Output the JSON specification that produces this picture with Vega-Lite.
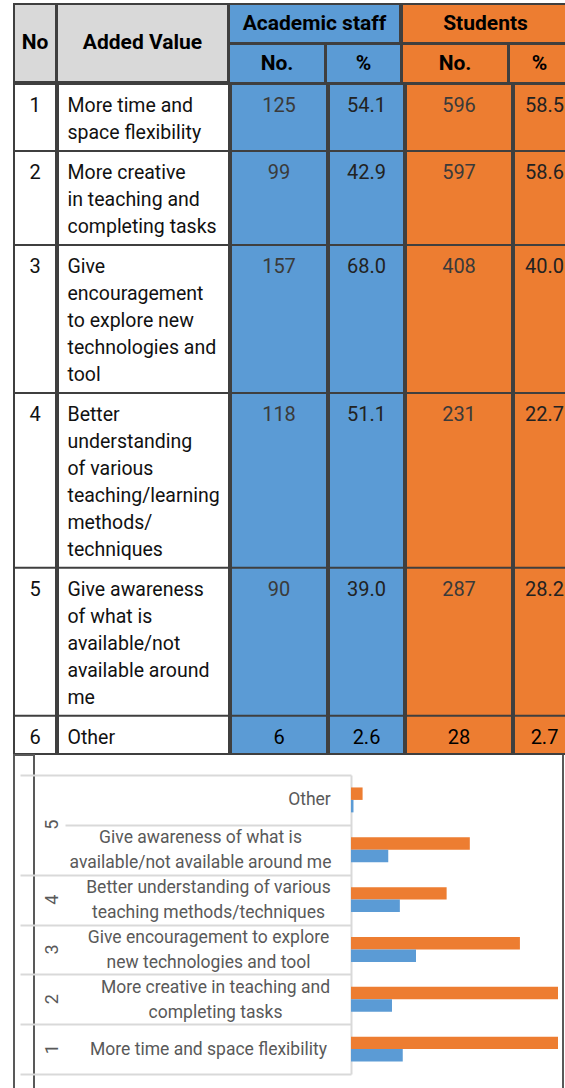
{
  "$schema": "https://vega.github.io/schema/vega-lite/v6.json",
  "background": "white",
  "padding": {"left": 1, "top": 3, "right": 0, "bottom": 0},
  "config": {"view": {"stroke": null}},
  "datasets": {
    "headers": [
      {"key": "no", "text": "No"},
      {"key": "added", "text": "Added Value"},
      {"key": "staff", "text": "Academic staff"},
      {"key": "staff_no", "text": "No."},
      {"key": "staff_pct", "text": "%"},
      {"key": "stud", "text": "Students"},
      {"key": "stud_no", "text": "No."},
      {"key": "stud_pct", "text": "%"}
    ],
    "table": [
      {"no": 1, "label": ["More time and", "space flexibility"], "chart_label": "More time and space flexibility", "group": "1", "staff_n": 125, "staff_pct": 54.1, "stud_n": 596, "stud_pct": 58.5},
      {"no": 2, "label": ["More creative", "in teaching and", "completing tasks"], "chart_label": "More creative in teaching and\ncompleting tasks", "group": "2", "staff_n": 99, "staff_pct": 42.9, "stud_n": 597, "stud_pct": 58.6},
      {"no": 3, "label": ["Give", "encouragement", "to explore new", "technologies and", "tool"], "chart_label": "Give encouragement to explore\nnew technologies and tool", "group": "3", "staff_n": 157, "staff_pct": 68.0, "stud_n": 408, "stud_pct": 40.0},
      {"no": 4, "label": ["Better", "understanding", "of various", "teaching/learning", "methods/", "techniques"], "chart_label": "Better understanding of various\nteaching methods/techniques", "group": "4", "staff_n": 118, "staff_pct": 51.1, "stud_n": 231, "stud_pct": 22.7},
      {"no": 5, "label": ["Give awareness", "of what is", "available/not", "available around", "me"], "chart_label": "Give awareness of what is\navailable/not available around me", "group": "5", "staff_n": 90, "staff_pct": 39.0, "stud_n": 287, "stud_pct": 28.2},
      {"no": 6, "label": ["Other"], "chart_label": "Other", "group": "", "staff_n": 6, "staff_pct": 2.6, "stud_n": 28, "stud_pct": 2.7}
    ]
  },
  "spacing": -4,
  "vconcat": [
    {
      "spacing": -4,
      "hconcat": [
        {
          "width": 42, "height": 78,
          "view": {"fill": "#D9D9D9", "stroke": "#3f3f3f", "strokeWidth": 2},
          "data": {"name": "headers"},
          "transform": [{"filter": "datum.key === 'no'"}],
          "mark": {"type": "text", "clip": true, "font": "Roboto", "fontSize": 21, "fontWeight": "bold", "color": "#000"},
          "encoding": {
            "y": {"field": "key", "type": "nominal", "axis": {"labels": false, "ticks": false, "domain": false, "grid": false, "title": null, "minExtent": 12, "maxExtent": 12}},
            "text": {"field": "text", "type": "nominal"}
          }
        },
        {
          "width": 171, "height": 78,
          "view": {"fill": "#D9D9D9", "stroke": "#3f3f3f", "strokeWidth": 2},
          "data": {"name": "headers"},
          "transform": [{"filter": "datum.key === 'added'"}],
          "mark": {"type": "text", "clip": true, "font": "Roboto", "fontSize": 21, "fontWeight": "bold", "color": "#000"},
          "encoding": {"text": {"field": "text", "type": "nominal"}}
        },
        {
          "spacing": -4,
          "vconcat": [
            {
              "width": 171, "height": 39,
              "view": {"fill": "#5B9BD5", "stroke": "#3f3f3f", "strokeWidth": 2},
              "data": {"name": "headers"},
              "transform": [{"filter": "datum.key === 'staff'"}],
              "mark": {"type": "text", "clip": true, "font": "Roboto", "fontSize": 21, "fontWeight": "bold", "color": "#000"},
              "encoding": {"text": {"field": "text", "type": "nominal"}}
            },
            {
              "spacing": -4,
              "hconcat": [
                {
                  "width": 96, "height": 39,
                  "view": {"fill": "#5B9BD5", "stroke": "#3f3f3f", "strokeWidth": 2},
                  "data": {"name": "headers"},
                  "transform": [{"filter": "datum.key === 'staff_no'"}],
                  "mark": {"type": "text", "clip": true, "font": "Roboto", "fontSize": 21, "fontWeight": "bold", "color": "#000"},
                  "encoding": {"text": {"field": "text", "type": "nominal"}}
                },
                {
                  "width": 75, "height": 39,
                  "view": {"fill": "#5B9BD5", "stroke": "#3f3f3f", "strokeWidth": 2},
                  "data": {"name": "headers"},
                  "transform": [{"filter": "datum.key === 'staff_pct'"}],
                  "mark": {"type": "text", "clip": true, "font": "Roboto", "fontSize": 21, "fontWeight": "bold", "color": "#000"},
                  "encoding": {"text": {"field": "text", "type": "nominal"}}
                }
              ]
            }
          ]
        },
        {
          "spacing": -4,
          "vconcat": [
            {
              "width": 167, "height": 39,
              "view": {"fill": "#ED7D31", "stroke": "#3f3f3f", "strokeWidth": 2},
              "data": {"name": "headers"},
              "transform": [{"filter": "datum.key === 'stud'"}],
              "mark": {"type": "text", "clip": true, "font": "Roboto", "fontSize": 21, "fontWeight": "bold", "color": "#000"},
              "encoding": {"text": {"field": "text", "type": "nominal"}}
            },
            {
              "spacing": -4,
              "hconcat": [
                {
                  "width": 106, "height": 39,
                  "view": {"fill": "#ED7D31", "stroke": "#3f3f3f", "strokeWidth": 2},
                  "data": {"name": "headers"},
                  "transform": [{"filter": "datum.key === 'stud_no'"}],
                  "mark": {"type": "text", "clip": true, "font": "Roboto", "fontSize": 21, "fontWeight": "bold", "color": "#000"},
                  "encoding": {"text": {"field": "text", "type": "nominal"}}
                },
                {
                  "width": 61, "height": 39,
                  "view": {"fill": "#ED7D31", "stroke": "#3f3f3f", "strokeWidth": 2},
                  "data": {"name": "headers"},
                  "transform": [{"filter": "datum.key === 'stud_pct'"}],
                  "mark": {"type": "text", "clip": true, "font": "Roboto", "fontSize": 21, "fontWeight": "bold", "color": "#000"},
                  "encoding": {"text": {"field": "text", "type": "nominal"}}
                }
              ]
            }
          ]
        }
      ]
    },
    {
      "spacing": -4,
      "hconcat": [
        {
          "width": 42, "height": 670,
          "view": {"fill": "white", "stroke": "#3f3f3f", "strokeWidth": 2},
          "data": {"name": "table"},
          "transform": [
            {"calculate": "length(datum.label) + 0.48", "as": "span"},
            {"window": [{"op": "sum", "field": "span", "as": "y1"}], "sort": [{"field": "no", "order": "ascending"}], "frame": [null, 0]},
            {"calculate": "datum.y1 - datum.span", "as": "y0"}
          ],
          "layer": [
            {"mark": {"type": "rule", "color": "#3f3f3f", "strokeWidth": 2},
             "encoding": {"y": {"field": "y0", "type": "quantitative", "scale": {"domain": [0, 24.815], "reverse": true, "nice": false, "zero": false},
               "axis": {"labels": false, "ticks": false, "domain": false, "grid": false, "title": null, "minExtent": 12, "maxExtent": 12}}}},
            {"mark": {"type": "text", "clip": true, "align": "center", "baseline": "alphabetic", "dy": 28, "font": "Roboto", "fontSize": 20, "color": "#111"},
             "encoding": {"y": {"field": "y0", "type": "quantitative",
               "axis": {"labels": false, "ticks": false, "domain": false, "grid": false, "title": null, "minExtent": 12, "maxExtent": 12}},
               "text": {"field": "no", "type": "quantitative", "format": "d"}}}
          ]
        },
        {
          "width": 171, "height": 670,
          "view": {"fill": "white", "stroke": "#3f3f3f", "strokeWidth": 2},
          "data": {"name": "table"},
          "transform": [
            {"calculate": "length(datum.label) + 0.48", "as": "span"},
            {"window": [{"op": "sum", "field": "span", "as": "y1"}], "sort": [{"field": "no", "order": "ascending"}], "frame": [null, 0]},
            {"calculate": "datum.y1 - datum.span", "as": "y0"}
          ],
          "layer": [
            {"mark": {"type": "rule", "color": "#3f3f3f", "strokeWidth": 2}, "encoding": {"y": {"field": "y0", "type": "quantitative", "scale": {"domain": [0, 24.815], "reverse": true, "nice": false, "zero": false}, "axis": null}}},
            {"mark": {"type": "text", "clip": true, "align": "left", "baseline": "alphabetic", "dx": -76, "dy": 28, "lineHeight": 27, "font": "Roboto", "fontSize": 19.5, "color": "#111"},
             "encoding": {"y": {"field": "y0", "type": "quantitative", "axis": null}, "text": {"field": "label", "type": "nominal"}}}
          ]
        },
        {
          "width": 96, "height": 670,
          "view": {"fill": "#5B9BD5", "stroke": "#3f3f3f", "strokeWidth": 2},
          "data": {"name": "table"},
          "transform": [
            {"calculate": "length(datum.label) + 0.48", "as": "span"},
            {"window": [{"op": "sum", "field": "span", "as": "y1"}], "sort": [{"field": "no", "order": "ascending"}], "frame": [null, 0]},
            {"calculate": "datum.y1 - datum.span", "as": "y0"}
          ],
          "layer": [
            {"mark": {"type": "rule", "color": "#3f3f3f", "strokeWidth": 2}, "encoding": {"y": {"field": "y0", "type": "quantitative", "scale": {"domain": [0, 24.815], "reverse": true, "nice": false, "zero": false}, "axis": null}}},
            {"mark": {"type": "text", "clip": true, "align": "center", "baseline": "alphabetic", "dy": 28, "font": "Roboto", "fontSize": 20},
             "encoding": {"y": {"field": "y0", "type": "quantitative", "axis": null}, "text": {"field": "staff_n", "type": "quantitative", "format": "d"},
               "color": {"condition": {"test": "datum.no === 6", "value": "#000"}, "value": "#3a3a3a"}}}
          ]
        },
        {
          "width": 75, "height": 670,
          "view": {"fill": "#5B9BD5", "stroke": "#3f3f3f", "strokeWidth": 2},
          "data": {"name": "table"},
          "transform": [
            {"calculate": "length(datum.label) + 0.48", "as": "span"},
            {"window": [{"op": "sum", "field": "span", "as": "y1"}], "sort": [{"field": "no", "order": "ascending"}], "frame": [null, 0]},
            {"calculate": "datum.y1 - datum.span", "as": "y0"}
          ],
          "layer": [
            {"mark": {"type": "rule", "color": "#3f3f3f", "strokeWidth": 2}, "encoding": {"y": {"field": "y0", "type": "quantitative", "scale": {"domain": [0, 24.815], "reverse": true, "nice": false, "zero": false}, "axis": null}}},
            {"mark": {"type": "text", "clip": true, "align": "center", "baseline": "alphabetic", "dy": 28, "font": "Roboto", "fontSize": 20},
             "encoding": {"y": {"field": "y0", "type": "quantitative", "axis": null}, "text": {"field": "staff_pct", "type": "quantitative", "format": ".1f"},
               "color": {"condition": {"test": "datum.no === 6", "value": "#000"}, "value": "#222"}}}
          ]
        },
        {
          "width": 106, "height": 670,
          "view": {"fill": "#ED7D31", "stroke": "#3f3f3f", "strokeWidth": 2},
          "data": {"name": "table"},
          "transform": [
            {"calculate": "length(datum.label) + 0.48", "as": "span"},
            {"window": [{"op": "sum", "field": "span", "as": "y1"}], "sort": [{"field": "no", "order": "ascending"}], "frame": [null, 0]},
            {"calculate": "datum.y1 - datum.span", "as": "y0"}
          ],
          "layer": [
            {"mark": {"type": "rule", "color": "#3f3f3f", "strokeWidth": 2}, "encoding": {"y": {"field": "y0", "type": "quantitative", "scale": {"domain": [0, 24.815], "reverse": true, "nice": false, "zero": false}, "axis": null}}},
            {"mark": {"type": "text", "clip": true, "align": "center", "baseline": "alphabetic", "dy": 28, "font": "Roboto", "fontSize": 20},
             "encoding": {"y": {"field": "y0", "type": "quantitative", "axis": null}, "text": {"field": "stud_n", "type": "quantitative", "format": "d"},
               "color": {"condition": {"test": "datum.no === 6", "value": "#000"}, "value": "#3a3a3a"}}}
          ]
        },
        {
          "width": 61, "height": 670,
          "view": {"fill": "#ED7D31", "stroke": "#3f3f3f", "strokeWidth": 2},
          "data": {"name": "table"},
          "transform": [
            {"calculate": "length(datum.label) + 0.48", "as": "span"},
            {"window": [{"op": "sum", "field": "span", "as": "y1"}], "sort": [{"field": "no", "order": "ascending"}], "frame": [null, 0]},
            {"calculate": "datum.y1 - datum.span", "as": "y0"}
          ],
          "layer": [
            {"mark": {"type": "rule", "color": "#3f3f3f", "strokeWidth": 2}, "encoding": {"y": {"field": "y0", "type": "quantitative", "scale": {"domain": [0, 24.815], "reverse": true, "nice": false, "zero": false}, "axis": null}}},
            {"mark": {"type": "text", "clip": true, "align": "center", "baseline": "alphabetic", "dy": 28, "font": "Roboto", "fontSize": 20},
             "encoding": {"y": {"field": "y0", "type": "quantitative", "axis": null}, "text": {"field": "stud_pct", "type": "quantitative", "format": ".1f"},
               "color": {"condition": {"test": "datum.no === 6", "value": "#000"}, "value": "#222"}}}
          ]
        }
      ]
    },
    {
      "spacing": -44,
      "hconcat": [
        {
          "width": 0, "height": 334,
          "view": {"stroke": "#595959", "strokeWidth": 2},
          "data": {"name": "table"},
          "transform": [{"calculate": "datum.group + '|' + datum.chart_label", "as": "cat"}],
          "layer": [
            {
              "mark": {"type": "text", "angle": 270, "align": "center", "baseline": "middle", "dy": 29, "font": "Roboto", "fontSize": 18, "color": "#595959"},
              "encoding": {
                "y": {"field": "cat", "type": "nominal", "sort": {"field": "no", "op": "max", "order": "descending"},
                      "scale": {"range": [20, 319], "paddingInner": 0, "paddingOuter": 0}, "axis": null},
                "text": {"condition": {"test": "datum.group !== '5'", "field": "group"}, "value": ""}
              }
            },
            {
              "mark": {"type": "text", "angle": 270, "align": "center", "baseline": "middle", "dx": 25, "dy": 29, "font": "Roboto", "fontSize": 18, "color": "#595959"},
              "encoding": {
                "y": {"field": "cat", "type": "nominal", "sort": {"field": "no", "op": "max", "order": "descending"}, "axis": null},
                "text": {"condition": {"test": "datum.group === '5'", "field": "group"}, "value": ""}
              }
            }
          ]
        },
        {
          "width": 212, "height": 334,
          "view": {"stroke": null},
          "data": {"name": "table"},
          "transform": [{"calculate": "datum.group + '|' + datum.chart_label", "as": "cat"}],
          "layer": [
            {
              "transform": [{"fold": ["stud_n", "staff_n"], "as": ["series", "count"]}],
              "mark": {"type": "bar"},
              "encoding": {
                "x": {"field": "count", "type": "quantitative", "scale": {"domain": [0, 500], "range": [0, 207], "clamp": true, "nice": false}, "axis": null},
                "y": {
                  "field": "cat", "type": "nominal",
                  "sort": {"field": "no", "op": "max", "order": "descending"},
                  "scale": {"range": [20, 319], "paddingInner": 0, "paddingOuter": 0},
                  "axis": {
                    "orient": "left", "title": null, "grid": false,
                    "domain": true, "domainColor": "#D9D9D9", "domainWidth": 2,
                    "ticks": true, "tickBand": "extent", "tickColor": "#D9D9D9", "tickWidth": 2,
                    "tickSize": {"condition": {"test": "datum.value === '|Other'", "value": 286}, "value": 331},
                    "labelExpr": "isString(datum.value) ? split(split(datum.value, '|')[1], '\\n') : ''",
                    "labelAlign": "center",
                    "labelBaseline": {"condition": {"test": "isString(datum.value) && indexof(datum.value, '\\n') >= 0", "value": "line-bottom"}, "value": "middle"},
                    "labelPadding": {"condition": [
                      {"test": "datum.value === '|Other'", "value": -244},
                      {"test": "isString(datum.value) && indexof(datum.value, 'Give awareness') >= 0", "value": -180},
                      {"test": "isString(datum.value) && indexof(datum.value, 'More creative') >= 0", "value": -195}
                    ], "value": -188},
                    "labelFontSize": {"condition": {"test": "!isString(datum.value)", "value": 0}, "value": 17.5},
                    "labelFont": "Roboto", "labelColor": "#595959", "labelLineHeight": 25,
                    "labelLimit": 400, "labelOverlap": false
                  }
                },
                "yOffset": {"field": "series", "type": "nominal", "sort": ["stud_n", "staff_n"], "scale": {"paddingInner": 0, "paddingOuter": 1.137}},
                "color": {"field": "series", "type": "nominal", "scale": {"domain": ["staff_n", "stud_n"], "range": ["#5B9BD5", "#ED7D31"]}, "legend": null}
              }
            },
            {
              "mark": {"type": "rule", "color": "#595959", "strokeWidth": 2},
              "encoding": {"x": {"value": "width"}}
            }
          ]
        }
      ]
    }
  ]
}
